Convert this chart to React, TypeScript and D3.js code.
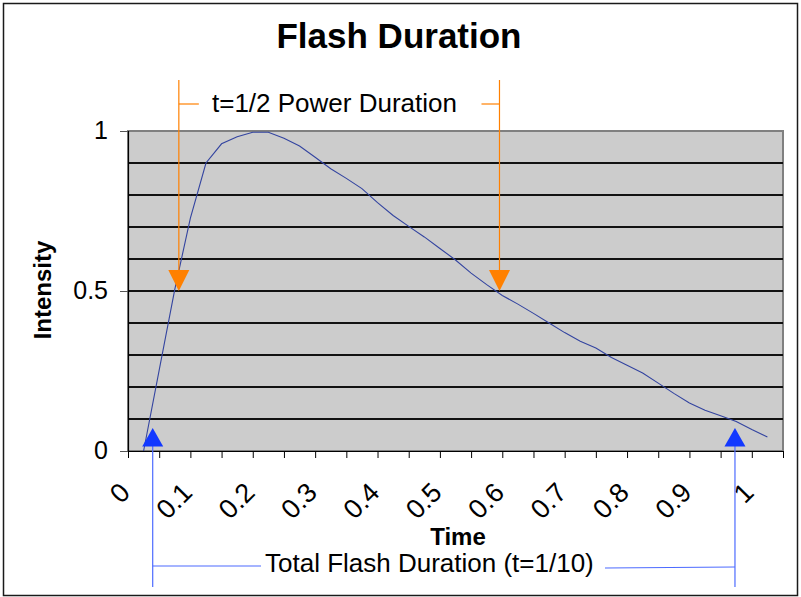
import { useEffect, useRef } from "react";
import * as d3 from "d3";

// time samples (x) and relative intensity (y)
const times = [
  0, 0.025, 0.05, 0.075, 0.1, 0.125, 0.15, 0.175, 0.2, 0.225, 0.25, 0.275, 0.3, 0.325,
  0.35, 0.375, 0.4, 0.425, 0.45, 0.475, 0.5, 0.525, 0.55, 0.575, 0.6, 0.625, 0.65,
  0.675, 0.7, 0.725, 0.75, 0.775, 0.8, 0.825, 0.85, 0.875, 0.9, 0.925, 0.95, 0.975, 1,
];
const intensity = [
  0, 0.253, 0.505, 0.728, 0.9, 0.96, 0.982, 0.996, 0.996, 0.977, 0.953, 0.918, 0.882,
  0.852, 0.82, 0.776, 0.736, 0.702, 0.669, 0.633, 0.597, 0.556, 0.52, 0.486, 0.459,
  0.43, 0.4, 0.37, 0.343, 0.322, 0.292, 0.268, 0.244, 0.212, 0.18, 0.15, 0.127, 0.11,
  0.092, 0.067, 0.044,
];

const xTickLabels = [0, 0.1, 0.2, 0.3, 0.4, 0.5, 0.6, 0.7, 0.8, 0.9, 1];
const yTickLabels = [0, 0.5, 1];
const gridValues = [0.1, 0.2, 0.3, 0.4, 0.5, 0.6, 0.7, 0.8, 0.9];

// annotation positions (time) and levels
const halfPowerTimes = [0.0565, 0.5705];
const halfPowerLevel = 0.5;
const totalTimes = [0.0146, 0.948];
const totalLevel = 0.072;

const FONT = "'Liberation Sans', Arial, Helvetica, sans-serif";

export default function App() {
  const svgRef = useRef<SVGSVGElement | null>(null);
  const width = 801;
  const height = 597;

  useEffect(() => {
    if (!svgRef.current) return;
    const svg = d3.select(svgRef.current);
    svg.selectAll("*").remove();

    const plot = { left: 128, right: 783, top: 131, bottom: 451 };

    // category-style axis: half a step of padding on each end
    const x = d3.scaleLinear().domain([-0.025, 1.025]).range([plot.left, plot.right]);
    const y = d3.scaleLinear().domain([0, 1]).range([plot.bottom, plot.top]);

    // outer chart border
    svg
      .append("rect")
      .attr("x", 3.5)
      .attr("y", 3.5)
      .attr("width", 794)
      .attr("height", 592)
      .attr("fill", "white")
      .attr("stroke", "#1a1a1a")
      .attr("stroke-width", 1.5);

    // title
    svg
      .append("text")
      .attr("x", 399)
      .attr("y", 48)
      .attr("text-anchor", "middle")
      .attr("font-family", FONT)
      .attr("font-size", 35)
      .attr("font-weight", 700)
      .text("Flash Duration");

    // plot area
    svg
      .append("rect")
      .attr("x", plot.left)
      .attr("y", plot.top)
      .attr("width", plot.right - plot.left)
      .attr("height", plot.bottom - plot.top)
      .attr("fill", "#cccccc")
      .attr("stroke", "#808080")
      .attr("stroke-width", 1.2)
      .attr("shape-rendering", "crispEdges");

    // horizontal gridlines
    svg
      .append("g")
      .selectAll("line")
      .data(gridValues)
      .join("line")
      .attr("x1", plot.left)
      .attr("x2", plot.right)
      .attr("y1", (d) => y(d))
      .attr("y2", (d) => y(d))
      .attr("stroke", "#111")
      .attr("stroke-width", 1.2)
      .attr("shape-rendering", "crispEdges");

    // y axis
    const yAxis = d3
      .axisLeft(y)
      .tickValues(yTickLabels)
      .tickSize(8)
      .tickFormat((d) => String(d));
    const gy = svg
      .append("g")
      .attr("transform", `translate(${plot.left},0)`)
      .call(yAxis);
    gy.select(".domain").attr("stroke", "#000").attr("stroke-width", 1.2);
    gy.selectAll(".tick line").attr("stroke", "#555");
    gy.selectAll(".tick text")
      .attr("font-family", FONT)
      .attr("font-size", 25)
      .attr("fill", "#000")
      .attr("x", -20)
      .attr("dy", "0.3em");

    // x axis (ticks between categories)
    const xTicks = d3.range(0, 22).map((i) => -0.025 + i * 0.05);
    const xAxis = d3
      .axisBottom(x)
      .tickValues(xTicks)
      .tickSize(7)
      .tickSizeOuter(0)
      .tickFormat(() => "");
    const gx = svg
      .append("g")
      .attr("transform", `translate(0,${plot.bottom})`)
      .call(xAxis);
    gx.select(".domain").attr("stroke", "#000").attr("stroke-width", 1.2);
    gx.selectAll(".tick line").attr("stroke", "#000");

    svg
      .append("g")
      .selectAll("text")
      .data(xTickLabels)
      .join("text")
      .attr("transform", (d) => `translate(${x(d) - 12},494) rotate(-45)`)
      .attr("text-anchor", "end")
      .attr("font-family", FONT)
      .attr("font-size", 27)
      .text((d) => String(d));

    // axis titles
    svg
      .append("text")
      .attr("x", 458)
      .attr("y", 545)
      .attr("text-anchor", "middle")
      .attr("font-family", FONT)
      .attr("font-size", 24)
      .attr("font-weight", 700)
      .text("Time");

    svg
      .append("text")
      .attr("transform", "translate(51,290) rotate(-90)")
      .attr("text-anchor", "middle")
      .attr("font-family", FONT)
      .attr("font-size", 24)
      .attr("font-weight", 700)
      .text("Intensity");

    // curve
    const pts = times.map((t, i) => [t, intensity[i]] as [number, number]);
    const line = d3
      .line<[number, number]>()
      .x((d) => x(d[0]))
      .y((d) => y(d[1]));
    svg
      .append("path")
      .datum(pts)
      .attr("d", line)
      .attr("fill", "none")
      .attr("stroke", "#3344a0")
      .attr("stroke-width", 1.1);

    // half power annotation (orange)
    const orange = "#ff8000";
    const tipY = y(halfPowerLevel);
    const orangeG = svg.append("g");
    halfPowerTimes.forEach((t, i) => {
      const cx = x(t);
      orangeG
        .append("line")
        .attr("x1", cx)
        .attr("x2", cx)
        .attr("y1", 80)
        .attr("y2", tipY - 18)
        .attr("stroke", orange)
        .attr("stroke-width", 1.2);
      orangeG
        .append("path")
        .attr("d", `M${cx - 10.5},${tipY - 21} L${cx + 10.5},${tipY - 21} L${cx},${tipY} Z`)
        .attr("fill", orange);
      orangeG
        .append("line")
        .attr("x1", i === 0 ? cx : cx - 18)
        .attr("x2", i === 0 ? cx + 20 : cx)
        .attr("y1", 104)
        .attr("y2", 104)
        .attr("stroke", orange)
        .attr("stroke-width", 1.2);
    });
    svg
      .append("text")
      .attr("x", 212)
      .attr("y", 112)
      .attr("font-family", FONT)
      .attr("font-size", 26)
      .text("t=1/2 Power Duration");

    // total duration annotation (blue)
    const blue = "#1238ff";
    const blueTip = y(totalLevel);
    const blueG = svg.append("g");
    totalTimes.forEach((t, i) => {
      const cx = x(t);
      blueG
        .append("line")
        .attr("x1", cx)
        .attr("x2", cx)
        .attr("y1", blueTip + 15)
        .attr("y2", 587)
        .attr("stroke", "#4d6bff")
        .attr("stroke-width", 1.2);
      blueG
        .append("path")
        .attr("d", `M${cx - 10.5},${blueTip + 18.5} L${cx + 10.5},${blueTip + 18.5} L${cx},${blueTip} Z`)
        .attr("fill", blue);
      blueG
        .append("line")
        .attr("x1", i === 0 ? cx : 605)
        .attr("x2", i === 0 ? 261 : cx)
        .attr("y1", i === 0 ? 566 : 568)
        .attr("y2", i === 0 ? 566 : 567)
        .attr("stroke", "#4d6bff")
        .attr("stroke-width", 1.2);
    });
    svg
      .append("text")
      .attr("x", 265)
      .attr("y", 572)
      .attr("font-family", FONT)
      .attr("font-size", 26)
      .text("Total Flash Duration (t=1/10)");
  }, []);

  return (
    <svg
      ref={svgRef}
      width={width}
      height={height}
      style={{ position: "absolute", left: 0, top: 0, background: "white" }}
    />
  );
}
